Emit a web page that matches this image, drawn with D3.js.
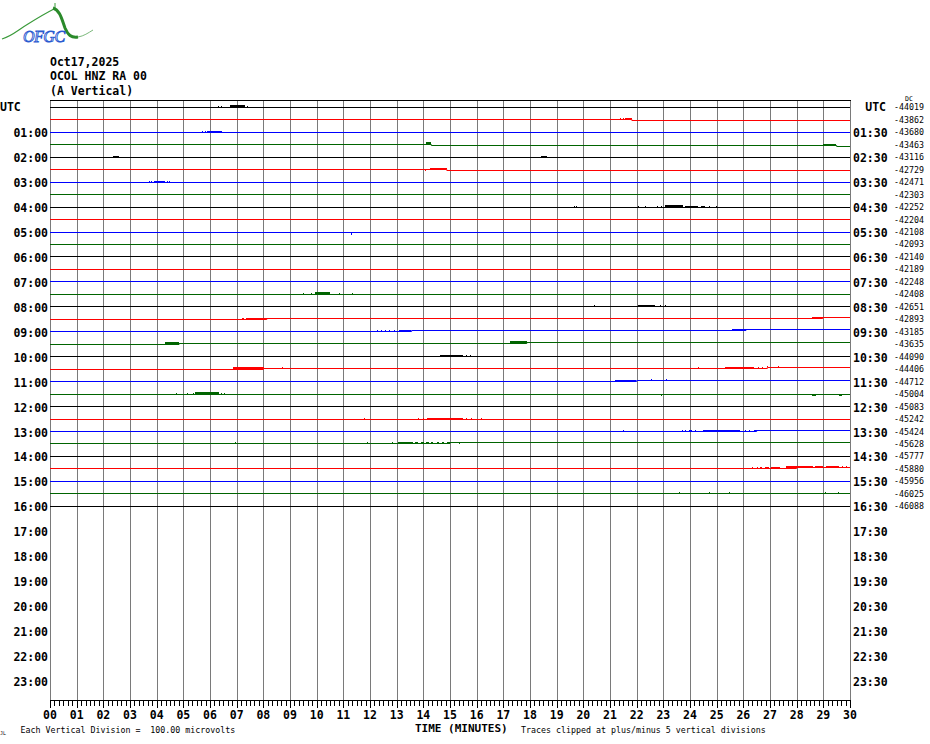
<!DOCTYPE html>
<html><head><meta charset="utf-8">
<script src="https://cdn.jsdelivr.net/npm/d3@7"></script>
<style>
html,body{margin:0;padding:0;background:#fff;}
svg{display:block;}
.b{font-family:"DejaVu Sans Mono",monospace;font-weight:bold;font-size:11.5px;fill:#000;}
.s{font-family:"DejaVu Sans Mono",monospace;font-size:8.3px;fill:#000;}
</style></head>
<body><svg id="c" width="930" height="744"></svg>
<script>
// ---------- data ----------
const headerLines = ["Oct17,2025", "OCOL HNZ RA 00", "(A Vertical)"];
const leftLabels = ["UTC","01:00","02:00","03:00","04:00","05:00","06:00","07:00","08:00","09:00","10:00","11:00",
  "12:00","13:00","14:00","15:00","16:00","17:00","18:00","19:00","20:00","21:00","22:00","23:00"];
const rightLabels = ["UTC","01:30","02:30","03:30","04:30","05:30","06:30","07:30","08:30","09:30","10:30","11:30",
  "12:30","13:30","14:30","15:30","16:30","17:30","18:30","19:30","20:30","21:30","22:30","23:30"];
const dcValues = [-44019,-43862,-43680,-43463,-43116,-42729,-42471,-42303,-42252,-42204,-42108,-42093,-42140,
  -42189,-42248,-42408,-42651,-42893,-43185,-43635,-44090,-44406,-44712,-45004,-45083,-45242,-45424,-45628,
  -45777,-45880,-45956,-46025,-46088];
const minuteTicks = d3.range(0, 31);
const minuteLabels = minuteTicks.map(m => String(m).padStart(2, "0"));
const totalRows = 48;
const microvoltsPerDivision = 100;
// bursts: [row, startMinute, endMinute, amplitude microvolts]
const bursts = [
 [0,6.30,6.34,12],[0,6.40,6.44,12],[0,6.75,7.30,14],[0,7.38,7.42,12],
 [1,21.38,21.42,10],[1,21.48,21.52,10],[1,21.56,21.82,12],
 [2,5.69,5.73,10],[2,5.80,5.84,10],[2,5.90,6.48,12],
 [3,14.10,14.30,14],[3,29.00,29.50,12],
 [4,2.35,2.56,12],[4,18.40,18.62,12],
 [5,14.06,14.10,-10],[5,14.25,14.88,12],
 [6,3.70,3.74,10],[6,3.80,3.84,10],[6,3.90,4.30,12],[6,4.40,4.44,10],[6,4.48,4.52,10],
 [8,19.65,19.69,10],[8,19.74,19.78,10],[8,22.05,22.09,10],[8,22.30,22.34,10],[8,22.76,22.80,10],[8,22.90,22.94,10],
 [8,23.06,23.75,14],[8,23.80,24.30,10],[8,24.40,24.55,10],[8,24.70,24.74,10],[8,24.98,25.02,10],
 [10,11.30,11.34,-14],
 [15,9.49,9.53,10],[15,9.79,9.83,10],[15,9.94,10.50,14],[15,10.84,10.88,10],[15,11.33,11.37,10],
 [16,20.40,20.44,10],[16,22.05,22.70,12],[16,22.86,22.90,10],[16,23.08,23.12,10],
 [17,7.19,7.25,10],[17,7.35,8.13,12],[17,28.56,28.98,12],
 [18,12.25,12.29,10],[18,12.40,12.44,10],[18,12.55,12.59,10],[18,12.70,12.74,10],[18,12.90,12.94,10],
 [18,13.10,13.56,12],[18,25.56,26.10,12],
 [19,4.31,4.84,14],[19,17.25,17.88,14],
 [20,14.63,15.50,12],[20,15.60,15.64,10],[20,15.74,15.78,10],
 [21,6.85,8.00,14],[21,8.69,8.73,10],[21,24.30,24.34,10],[21,25.30,26.40,12],[21,26.55,26.60,10],
 [21,26.70,26.74,10],[21,26.90,26.94,10],[21,27.30,27.34,10],
 [22,21.20,22.00,12],[22,22.55,22.59,10],[22,23.10,23.14,10],
 [23,4.72,4.76,10],[23,5.12,5.16,10],[23,5.35,5.39,10],[23,5.44,6.35,14],[23,6.42,6.46,10],[23,6.52,6.56,10],
 [23,22.90,22.94,-12],[23,28.56,28.70,-10],[23,29.60,29.72,-10],
 [25,11.78,11.82,10],[25,13.81,13.85,10],[25,14.00,14.04,10],[25,14.15,15.50,12],[25,15.60,15.64,10],
 [25,15.80,15.84,10],[25,16.15,16.19,10],
 [26,21.50,21.54,10],[26,23.69,23.73,10],[26,23.80,23.84,10],[26,23.95,24.05,10],[26,24.20,24.24,10],
 [26,24.50,25.90,12],[26,26.05,26.09,10],[26,26.20,26.24,10],[26,26.40,26.50,10],
 [27,6.94,6.98,10],[27,11.90,11.94,10],[27,12.81,12.85,10],[27,13.06,13.63,12],[27,13.70,13.80,10],
 [27,13.90,14.00,10],[27,14.10,14.20,10],[27,14.30,14.36,10],[27,14.50,14.56,10],[27,14.70,14.76,10],
 [27,14.90,15.00,10],[27,15.35,15.39,-12],
 [29,26.31,26.35,10],[29,26.50,26.54,10],[29,26.62,26.70,10],[29,26.80,26.95,10],[29,27.05,27.40,10],
 [29,27.60,28.60,14],[29,28.70,29.00,12],[29,29.10,29.60,12],[29,29.70,29.74,10],[29,29.85,29.90,10],
 [31,23.60,23.64,10],[31,24.72,24.76,10],[31,25.47,25.51,10],[31,29.06,29.10,10],[31,29.56,29.60,10]
];
// baseline steps: [row, minute, change in microvolts]
const shifts = [
 [1,21.82,-8],[3,14.3,-8],[3,29.5,-8],[5,14.88,-8],[17,8.13,8],[17,28.98,8],[18,13.56,8],[18,26.1,8],
 [19,4.84,8],[19,17.88,8],[21,8.0,8],[21,26.9,8],[22,22.0,8],[26,26.5,8],[27,15.0,8],[29,28.0,8]
];

// ---------- drawing ----------
const svg = d3.select("#c");
const traceColors = ["#000000", "#ff0000", "#0000ff", "#006400"];
const x = d3.scaleLinear().domain([0, 30]).range([50, 850]);
const yRow = d3.scaleLinear().domain([0, totalRows - 1]).range([107.3, 693.4]);
const uv = d3.scaleLinear().domain([0, microvoltsPerDivision]).range([0, 12.47]);
const px = v => Math.round(v) + 0.5;

svg.append("rect").attr("width", 930).attr("height", 744).attr("fill", "#fff");

// logo
const logo = svg.append("g");
logo.append("path").attr("d", "M2,39 C12,36 18,30 28,24 C36,19 44,14 54,9")
  .attr("fill", "none").attr("stroke", "#3a9a3a").attr("stroke-width", 1.2);
logo.append("path").attr("d", "M55,3 L55,9").attr("stroke", "#3a9a3a").attr("stroke-width", 1);
logo.append("path").attr("d", "M53,8 C60,10 62,20 65,28 C68,35 71,38 78,37")
  .attr("fill", "none").attr("stroke", "#2a8a2a").attr("stroke-width", 3);
logo.append("path").attr("d", "M78,37 C84,36 88,33 93,30")
  .attr("fill", "none").attr("stroke", "#7ab87a").attr("stroke-width", 1);
logo.append("text").attr("x", 23).attr("y", 42).text("OFGC")
  .attr("font-family", "Liberation Serif, serif").attr("font-style", "italic").attr("font-size", 16)
  .attr("fill", "#fff").attr("stroke", "#2a5ad0").attr("stroke-width", 0.9).attr("letter-spacing", -0.5);

// header
svg.selectAll("text.hdr").data(headerLines).join("text").attr("class", "b hdr")
  .attr("x", 50).attr("y", (d, i) => 66 + i * 14.3).text(d => d);

// vertical grid
svg.append("g").selectAll("line").data(minuteTicks).join("line")
  .attr("x1", d => px(x(d))).attr("x2", d => px(x(d)))
  .attr("y1", 100).attr("y2", 700).attr("stroke", "#7a7a7a").attr("stroke-width", 1);

// top border
svg.append("line").attr("x1", 50).attr("x2", 851).attr("y1", 100.5).attr("y2", 100.5)
  .attr("stroke", "#000").attr("stroke-width", 1);

// traces
const fy = v => Math.floor(v) + 0.5;
const line = d3.line().x(d => x(d[0])).y(d => d[2]).curve(d3.curveStepAfter);
const traceG = svg.append("g");
const burstG = svg.append("g").attr("shape-rendering", "crispEdges");
dcValues.forEach((dc, row) => {
  const base = yRow(row);
  const rs = shifts.filter(s => s[0] === row).sort((a, b) => a[1] - b[1]);
  let cum = 0;
  const pts = [[0, 0]];
  rs.forEach(s => { cum += s[2]; pts.push([s[1], cum]); });
  pts.push([30, cum]);
  const pp = pts.map(p => [p[0], p[1], fy(base) - Math.round(uv(p[1]))]);
  const color = traceColors[row % 4];
  traceG.append("path").attr("d", line(pp)).attr("fill", "none")
    .attr("stroke", color).attr("stroke-width", 1);
  const offsetAt = m => { let c = 0; rs.forEach(s => { if (s[1] <= m) c += s[2]; }); return c; };
  const hOf = d => Math.max(1, Math.round(uv(Math.abs(d[3]))));
  const rb = bursts.filter(b => b[0] === row);
  burstG.selectAll(null).data(rb).join("rect")
    .attr("x", d => Math.round(x(d[1])))
    .attr("width", d => Math.max(1, Math.round(x(d[2]) - x(d[1]))))
    .attr("y", d => {
      const yb = Math.floor(base) - Math.round(uv(offsetAt(d[1])));
      return d[3] > 0 ? yb - hOf(d) : yb + 1;
    })
    .attr("height", hOf)
    .attr("fill", color);
});

// left labels
svg.selectAll("text.ll").data(leftLabels).join("text").attr("class", "b ll")
  .attr("x", (d, i) => i === 0 ? 0 : 48).attr("text-anchor", (d, i) => i === 0 ? "start" : "end")
  .attr("y", (d, i) => yRow(i * 2) + (i === 0 ? 4 : 5)).text(d => d);
// right labels
svg.selectAll("text.rl").data(rightLabels).join("text").attr("class", "b rl")
  .attr("x", (d, i) => i === 0 ? 886 : 853).attr("text-anchor", (d, i) => i === 0 ? "end" : "start")
  .attr("y", (d, i) => yRow(i * 2) + (i === 0 ? 4 : 5)).text(d => d);
// DC values
svg.selectAll("text.dc").data(dcValues).join("text").attr("class", "s dc")
  .attr("x", 894).attr("y", (d, i) => yRow(i) + 3).text(d => d);
svg.append("text").attr("class", "s").attr("x", 905).attr("y", 100.5)
  .style("font-size", "6.5px").text("DC");

// bottom axis
svg.append("line").attr("x1", 50).attr("x2", 851).attr("y1", 700.5).attr("y2", 700.5).attr("stroke", "#000");
const minor = d3.range(0, 30 * 6 + 1);
svg.append("g").selectAll("line").data(minor).join("line")
  .attr("x1", d => px(x(d / 6))).attr("x2", d => px(x(d / 6)))
  .attr("y1", 700).attr("y2", d => d % 6 === 0 ? 708 : 706).attr("stroke", "#000");
svg.selectAll("text.xt").data(minuteLabels).join("text").attr("class", "b xt")
  .attr("x", (d, i) => x(minuteTicks[i])).attr("text-anchor", "middle").attr("y", 719).text(d => d);
svg.append("text").attr("class", "b").attr("x", 415).attr("y", 731.5)
  .style("font-size", "11px").text("TIME (MINUTES)");
svg.append("text").attr("class", "s").attr("x", 521).attr("y", 733).attr("xml:space", "preserve")
  .text("Traces clipped at plus/minus 5 vertical divisions");
svg.append("text").attr("class", "s").attr("x", 20.5).attr("y", 733).attr("xml:space", "preserve")
  .text("Each Vertical Division =  100.00 microvolts");
svg.append("text").attr("class", "s").attr("x", 0).attr("y", 735).style("font-size", "5px").text("JL");
</script></body></html>
